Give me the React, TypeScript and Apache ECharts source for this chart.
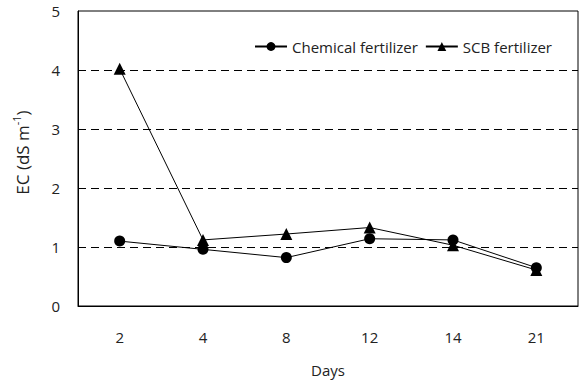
import React, { useEffect, useRef } from "react";
import * as echarts from "echarts";

const days = ["2", "4", "8", "12", "14", "21"];
const chemical = [1.1, 0.96, 0.82, 1.14, 1.12, 0.65];
const scb = [4.02, 1.12, 1.22, 1.33, 1.03, 0.61];
const yTicks = [0, 1, 2, 3, 4, 5];
const dashedLevels = [1, 2, 3, 4];

const FONT = "'Open Sans', 'Noto Sans', sans-serif";
const TXT = "#222";
const FS = 15;

export default function App() {
  const ref = useRef<HTMLDivElement>(null);
  useEffect(() => {
    document.body.style.margin = "0";
    const chart = echarts.init(ref.current!, null, { renderer: "svg" });
    chart.setOption({
      animation: false,
      backgroundColor: "#fff",
      textStyle: { fontFamily: FONT },
      grid: {
        left: 78,
        right: 1,
        top: 11,
        bottom: 79,
        show: true,
        borderColor: "#000",
        borderWidth: 1,
      },
      legend: {
        right: 22,
        top: 34,
        itemWidth: 32,
        itemHeight: 11,
        itemGap: 7,
        textStyle: { fontSize: FS, color: TXT, fontFamily: FONT },
        data: ["Chemical fertilizer", "SCB fertilizer"],
      },
      xAxis: {
        type: "category",
        data: days,
        boundaryGap: true,
        axisLine: { lineStyle: { color: "#000", width: 1 } },
        axisTick: { inside: true, length: 6, lineStyle: { color: "#000" } },
        axisLabel: { fontSize: FS, color: TXT, margin: 23, fontFamily: FONT },
        name: "Days",
        nameLocation: "middle",
        nameGap: 56,
        nameTextStyle: { fontSize: FS, color: TXT, fontFamily: FONT },
      },
      yAxis: {
        type: "value",
        min: yTicks[0],
        max: yTicks[yTicks.length - 1],
        interval: 1,
        axisLine: { show: true, lineStyle: { color: "#000", width: 1 } },
        axisTick: { show: false },
        axisLabel: { fontSize: FS, color: TXT, margin: 18, fontFamily: FONT },
        splitLine: { show: false },
        name: "EC (dS m{sup|-1})",
        nameLocation: "middle",
        nameGap: 45,
        nameTextStyle: {
          fontSize: 17,
          color: TXT,
          fontFamily: FONT,
          lineHeight: 22,
          padding: [0, 0, 0, 12],
          rich: {
            sup: {
              fontSize: 11,
              color: TXT,
              fontFamily: FONT,
              verticalAlign: "top",
              lineHeight: 22,
              padding: [0, 0, 8, 0],
            },
          },
        },
      },
      series: [
        {
          name: "Chemical fertilizer",
          type: "line",
          data: chemical,
          symbol: "circle",
          symbolSize: 11,
          itemStyle: { color: "#000" },
          lineStyle: { color: "#000", width: 1 },
          z: 3,
          markLine: {
            silent: true,
            symbol: "none",
            label: { show: false },
            lineStyle: { color: "#000", type: [8, 5], width: 1 },
            data: dashedLevels.map((v) => ({ yAxis: v })),
            z: 1,
          },
        },
        {
          name: "SCB fertilizer",
          type: "line",
          data: scb,
          symbol: "triangle",
          symbolSize: 12,
          itemStyle: { color: "#000" },
          lineStyle: { color: "#000", width: 1 },
          z: 2,
        },
      ],
    });
    return () => chart.dispose();
  }, []);
  return <div ref={ref} style={{ width: 579, height: 385 }} />;
}
